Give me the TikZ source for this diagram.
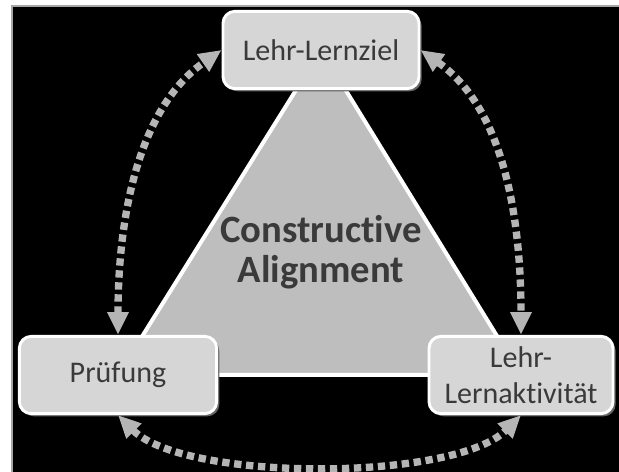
\documentclass[tikz,border=0pt]{standalone}
\usepackage{fontspec}
\setmainfont{Carlito}[Ligatures={NoCommon,NoContextual}]
\usetikzlibrary{arrows.meta, shadows, backgrounds}

\definecolor{boxgray}{HTML}{D6D6D6}
\definecolor{trigray}{HTML}{BEBEBE}
\definecolor{arrowgray}{HTML}{B5B5B5}
\definecolor{textgray}{HTML}{3A3A3A}

\begin{document}
\begin{tikzpicture}[x=0.75pt, y=0.75pt,
    stage/.style={draw=white, line width=2.2pt, fill=boxgray, rounded corners=9pt,
        text=textgray, font=\fontsize{22.5}{27}\selectfont, align=center,
        minimum height=58pt, inner sep=0pt,
        drop shadow={shadow xshift=2pt, shadow yshift=-2pt, fill=black!60, opacity=1}},
    link/.style={draw=arrowgray, line width=5.5pt, dash pattern=on 5.5pt off 3.5pt,
        {Triangle[length=17pt,width=15pt]}-{Triangle[length=17pt,width=15pt]}}
]
    \useasboundingbox (0,0) rectangle (619,472);
    
    \node[stage, minimum width=147pt] (ziel) at (321,422) {Lehr-Lernziel};
    \node[stage, minimum width=148pt] (pruef) at (118,97) {Prüfung};
    \node[stage, minimum width=138pt] (aktiv) at (521,97) {Lehr-\\Lernaktivität};
    
    \begin{pgfonlayer}{background}
        \fill[white] (0,0) rectangle (619,472);
        \draw[fill=black, draw=gray!70, line width=1pt] (12,-5) rectangle (625,466);
        \filldraw[fill=trigray, draw=white, line width=3pt]
            (ziel.center) -- (pruef.center) -- (aktiv.center) -- cycle;
    \end{pgfonlayer}
    
    \node[font=\bfseries\fontsize{29}{30}\selectfont, text=textgray, align=center]
        (ca) at (321,220) {Constructive\\Alignment};
    
    \draw[link] (pruef.north) to[out=90, in=215, looseness=0.9] (ziel.west);
    \draw[link] (ziel.east) to[out=-35, in=90, looseness=0.9] (aktiv.north);
    \draw[link] (pruef.south) to[out=-45, in=225, looseness=0.6] (aktiv.south);
    
\end{tikzpicture}
\end{document}
